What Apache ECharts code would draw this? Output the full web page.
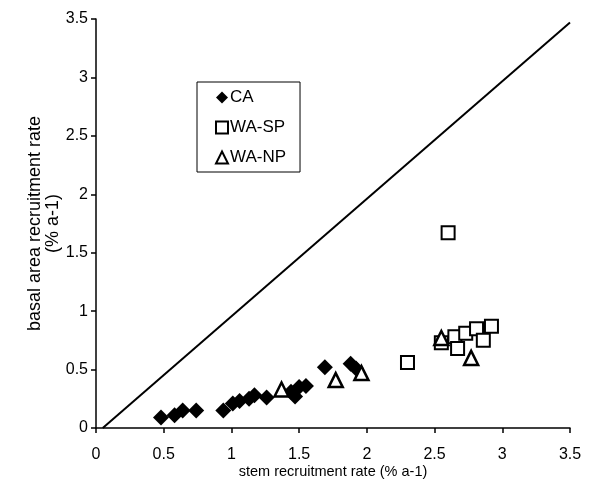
<!DOCTYPE html>
<html><head><meta charset="utf-8">
<script src="https://cdn.jsdelivr.net/npm/echarts@6/dist/echarts.min.js"></script>
<style>html,body{margin:0;padding:0;background:#fff}#c{width:590px;height:492px}</style>
</head><body><div id="c"></div>
<script>
const xTicks = [0, 0.5, 1, 1.5, 2, 2.5, 3, 3.5];
const yTicks = [0, 0.5, 1, 1.5, 2, 2.5, 3, 3.5];
const caX = [0.48,0.58,0.64,0.74,0.94,1.01,1.06,1.13,1.17,1.26,1.44,1.47,1.50,1.55,1.69,1.88,1.92];
const caY = [0.09,0.11,0.15,0.15,0.15,0.21,0.23,0.25,0.28,0.26,0.31,0.27,0.35,0.36,0.52,0.55,0.51];
const spX = [2.30,2.55,2.60,2.65,2.67,2.73,2.81,2.86,2.92];
const spY = [0.56,0.73,1.67,0.78,0.68,0.81,0.85,0.75,0.87];
const npX = [1.37,1.77,1.96,2.55,2.77];
const npY = [0.33,0.41,0.47,0.77,0.60];
const lineX = [0.05, 3.5];
const lineY = [0, 3.47];

const zip = (a, b) => a.map((v, i) => [v, b[i]]);
const font = 'Liberation Sans, Arial, sans-serif';
const chart = echarts.init(document.getElementById('c'), null, {renderer: 'canvas'});
const axisCommon = {
  min: 0, max: 3.5, interval: 0.5,
  axisLine: {show: true, onZero: false, lineStyle: {color: '#000', width: 1.5}},
  axisTick: {show: true, inside: false, length: 5, lineStyle: {color: '#000', width: 1.5}},
  splitLine: {show: false},
  nameMoveOverlap: false,
  axisLabel: {color: '#000', fontSize: 16, fontFamily: font, formatter: v => String(v)}
};
chart.setOption({
  animation: false,
  backgroundColor: '#fff',
  grid: {left: 96, right: 20, top: 19, bottom: 64, containLabel: false},
  xAxis: Object.assign({}, axisCommon, {
    type: 'value',
    name: 'stem recruitment rate (% a-1)',
    nameLocation: 'middle', nameGap: 36,
    nameTextStyle: {color: '#000', fontSize: 14.5, fontFamily: font},
    axisLabel: Object.assign({}, axisCommon.axisLabel, {margin: 19})
  }),
  yAxis: Object.assign({}, axisCommon, {
    type: 'value',
    name: 'basal area recruitment rate\n(% a-1)',
    nameLocation: 'middle', nameGap: 34,
    nameTextStyle: {color: '#000', fontSize: 18, fontFamily: font, lineHeight: 18},
    axisLabel: Object.assign({}, axisCommon.axisLabel, {margin: 8})
  }),
  legend: {
    orient: 'vertical', left: 197, top: 82,
    borderColor: '#000', borderWidth: 1,
    padding: [7, 14, 6, 18],
    itemGap: 13, itemWidth: 12, itemHeight: 12,
    textStyle: {color: '#000', fontSize: 17, lineHeight: 17, fontFamily: font, padding: [0, 0, 0, -3]},
    data: ['CA', 'WA-SP', 'WA-NP']
  },
  series: [
    {type: 'line', data: zip(lineX, lineY), symbol: 'none', silent: true,
     lineStyle: {color: '#000', width: 2}, z: 1},
    {name: 'CA', type: 'scatter', data: zip(caX, caY), symbol: 'diamond', symbolSize: [16, 16],
     itemStyle: {color: '#000', opacity: 1}, z: 3},
    {name: 'WA-SP', type: 'scatter', data: zip(spX, spY), symbol: 'rect', symbolSize: 13,
     itemStyle: {color: '#fff', borderColor: '#000', borderWidth: 2, opacity: 1}, z: 3},
    {name: 'WA-NP', type: 'scatter', data: zip(npX, npY), symbol: 'triangle', symbolSize: 14,
     itemStyle: {color: '#fff', borderColor: '#000', borderWidth: 2.5, opacity: 1}, z: 4}
  ]
});
</script></body></html>
